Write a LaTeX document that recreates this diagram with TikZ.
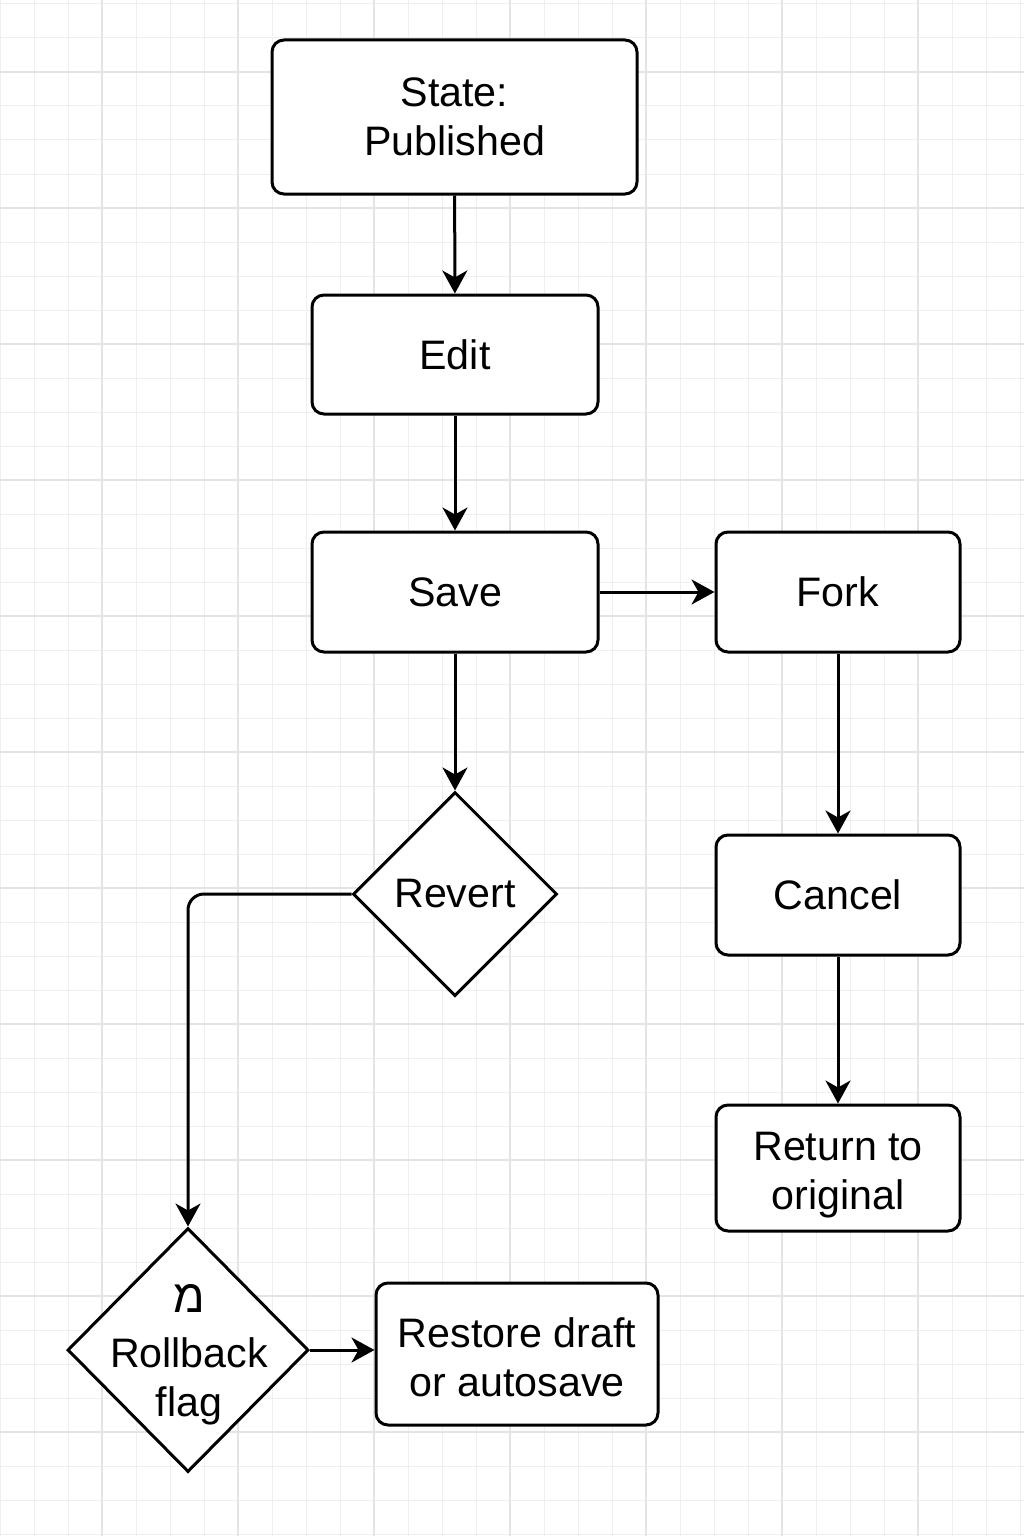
\documentclass[tikz,border=0pt]{standalone}
\usepackage{fontspec}
\setmainfont{Liberation Sans}
\newfontfamily\hebfont[Script=Hebrew]{Liberation Sans}
\TeXXeTstate=1
\usetikzlibrary{shapes.geometric,arrows.meta}
\definecolor{gridminor}{HTML}{EFEFEF}
\definecolor{gridmajor}{HTML}{E4E4E4}
\begin{document}
\begin{tikzpicture}[x=0.5pt,y=-0.5pt,
  minorline/.style={draw=gridminor,line width=0.5pt},
  majorline/.style={draw=gridmajor,line width=0.6pt},
  box/.style={draw,line width=1.5pt,rounded corners=6pt,fill=white,inner sep=0pt,align=center,
    font=\fontsize{20.6}{24.5}\selectfont},
  dia/.style={draw,diamond,line width=1.5pt,fill=white,inner sep=0pt},
  lbl/.style={align=center,inner sep=0pt,font=\fontsize{20.6}{24.5}\selectfont},
  arr/.style={draw,line width=1.5pt,-{Stealth[length=11.5pt,width=12.5pt,inset=3.5pt]}}
]
\useasboundingbox (0,0) rectangle (1024,1536);
\fill[white] (0,0) rectangle (1024,1536);
\foreach \x in {0,34,...,1024} \draw[minorline] (\x,0) -- (\x,1536);
\foreach \y in {4,38,...,1536} \draw[minorline] (0,\y) -- (1024,\y);
\foreach \x in {102,238,...,1024} \draw[majorline] (\x,0) -- (\x,1536);
\foreach \y in {72,208,...,1536} \draw[majorline] (0,\y) -- (1024,\y);

\node[box,minimum width=182.5pt,minimum height=77pt] (pub) at (454.5,117) {State:\\Published};
\node[box,minimum width=143pt,minimum height=59.5pt] (edit) at (455,354.5) {Edit};
\node[box,minimum width=143pt,minimum height=60pt] (save) at (455,592) {Save};
\node[box,minimum width=122pt,minimum height=60pt] (fork) at (838,592) {Fork};
\node[dia,minimum width=102pt,minimum height=102pt] (rev) at (455,894) {};
\node[lbl] (revt) at (rev.center) {Revert};
\node[box,minimum width=122pt,minimum height=60pt] (cancel) at (838,895) {Cancel};
\node[box,minimum width=122pt,minimum height=63pt] (ret) at (838,1168) {\rule{0pt}{21pt}Return to\\original};
\node[box,minimum width=141pt,minimum height=71pt] (rest) at (517,1354) {\rule{0pt}{18pt}Restore draft\\or autosave};
\node[dia,minimum width=120.5pt,minimum height=122pt] (rb) at (188,1350) {};
\node[lbl] (rbt) at (189,1355) {{\hebfont\fontsize{23}{24.5}\selectfont\beginR מ\endR}\\[3pt]Rollback\\flag};

\draw[arr] (pub) -- (edit);
\draw[arr] (edit) -- (save);
\draw[arr] (save) -- (rev);
\draw[arr] (save) -- (fork);
\draw[arr] (fork) -- (cancel);
\draw[arr] (cancel) -- (ret);
\draw[arr,rounded corners=8pt] (rev.west) -| (rb.north);
\draw[arr] (rb.east) -- (rb.east -| rest.west);
\end{tikzpicture}
\end{document}
